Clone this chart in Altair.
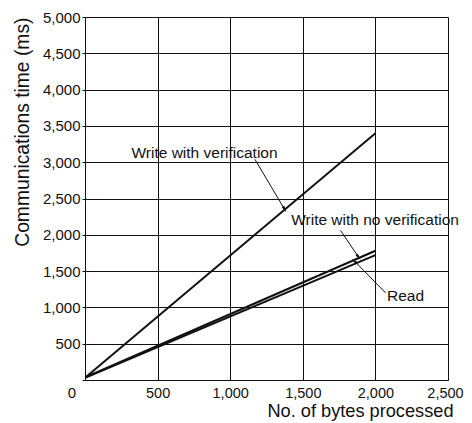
import altair as alt
import pandas as pd

# Series (bytes -> ms)
bytes_x = [0, 2000]
write_verify = [30, 3400]
write_noverify = [35, 1780]
read_only = [30, 1720]
series_names = ["Write with verification", "Write with no verification", "Read"]

x_ticks = [0, 500, 1000, 1500, 2000, 2500]
y_ticks = [0, 500, 1000, 1500, 2000, 2500, 3000, 3500, 4000, 4500, 5000]

# Annotations (label text positions in data units)
ann_text = ["Write with verification", "Write with no verification", "Read"]
ann_x = [320, 1420, 2080]
ann_y = [3130, 2200, 1160]
# Arrow start / end points in data units
arr_x1 = [1170, 1760, 2070]
arr_y1 = [3040, 2060, 1200]
arr_x2 = [1375, 1885, 1855]
arr_y2 = [2350, 1690, 1640]
arr_angle = [150, 144, 316]

rows = []
for name, ys in zip(series_names, [write_verify, write_noverify, read_only]):
    for xv, yv in zip(bytes_x, ys):
        rows.append({"series": name, "bytes": xv, "ms": yv})
df = pd.DataFrame(rows)

ann = pd.DataFrame({"text": ann_text, "x": ann_x, "y": ann_y})
arr = pd.DataFrame({"x1": arr_x1, "y1": arr_y1, "x2": arr_x2, "y2": arr_y2, "angle": arr_angle})
zero = pd.DataFrame({"x": [0], "y": [0], "t": ["0"]})

FONT = "Liberation Sans"
INK = "#111"
xs = alt.Scale(domain=[0, 2500], nice=False)
ys_ = alt.Scale(domain=[0, 5000], nice=False)

x_axis = alt.Axis(
    values=x_ticks, labelExpr="datum.value == 0 ? '' : format(datum.value, ',')",
    labelOffset={"condition": {"test": "datum.value == 2500", "value": -3}, "value": 0},
    title="No. of bytes processed", titleAnchor="end", titleAlign="right",
    titleX=368, titleY=36, titleBaseline="alphabetic",
    ticks=False, labelPadding=6, labelFontSize=14.5, titleFontSize=18.2,
    titleFontWeight="normal", labelFont=FONT, titleFont=FONT,
    labelColor=INK, titleColor=INK, grid=True, gridColor=INK,
    gridOpacity=1, domainColor=INK, labelFlush=False, labelOverlap=False)
y_axis = alt.Axis(
    values=y_ticks, labelExpr="datum.value == 0 ? '' : format(datum.value, ',')",
    title="Communications time (ms)", titleAnchor="end",
    titleFontSize=19.3, titleFontWeight="normal", titleFont=FONT, labelFont=FONT,
    labelFontSize=15, labelColor=INK, titleColor=INK, tickSize=3,
    tickColor=INK, labelPadding=2, titlePadding=10, grid=True, gridColor=INK,
    gridOpacity=1, domainColor=INK, labelFlush=False, labelOverlap=False)

lines = alt.Chart(df).mark_line(color=INK, strokeWidth=2, clip=True).encode(
    x=alt.X("bytes:Q", scale=xs, axis=x_axis),
    y=alt.Y("ms:Q", scale=ys_, axis=y_axis),
    detail="series:N",
)

texts = alt.Chart(ann).mark_text(font=FONT, fontSize=15.5, color=INK, align="left", baseline="middle").encode(
    x=alt.X("x:Q", scale=xs, axis=x_axis), y=alt.Y("y:Q", scale=ys_, axis=y_axis), text="text:N"
)

rules = alt.Chart(arr).mark_rule(color=INK, strokeWidth=1).encode(
    x=alt.X("x1:Q", scale=xs, axis=x_axis), y=alt.Y("y1:Q", scale=ys_, axis=y_axis),
    x2="x2:Q", y2="y2:Q",
)

heads = alt.Chart(arr).mark_point(shape="M0,-1L0.45,1L-0.45,1Z", filled=True, color=INK, size=45, opacity=1).encode(
    x=alt.X("x2:Q", scale=xs, axis=x_axis), y=alt.Y("y2:Q", scale=ys_, axis=y_axis),
    angle=alt.Angle("angle:Q", scale=None)
)

zero_lbl = alt.Chart(zero).mark_text(font=FONT, fontSize=15, color=INK, dx=-13, dy=6, baseline="top").encode(
    x=alt.X("x:Q", scale=xs, axis=x_axis), y=alt.Y("y:Q", scale=ys_, axis=y_axis), text="t:N"
)

chart = alt.layer(lines, rules, heads, texts, zero_lbl).properties(
    width=363, height=363,
    autosize=alt.AutoSizeParams(type="none"),
    padding={"left": 77, "top": 9, "right": 16, "bottom": 42},
).configure_view(stroke=INK, strokeWidth=1.5).configure(background="white")

chart.save("out.html", embed_options={"renderer": "svg", "actions": False})
